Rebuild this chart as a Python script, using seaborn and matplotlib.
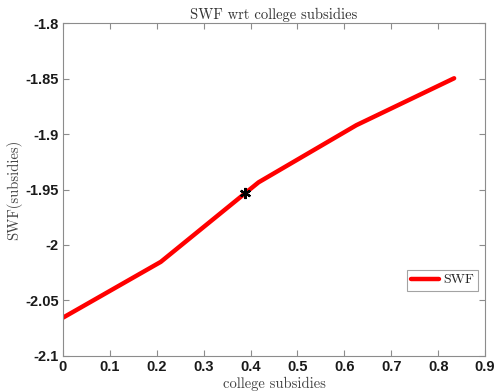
import matplotlib
matplotlib.use("Agg")
import matplotlib.pyplot as plt
import seaborn as sns
import pandas as pd

# Social welfare as a function of the college subsidy rate
subsidies = [0.0, 0.2085, 0.417, 0.6255, 0.834]
swf = [-2.0655, -2.0152, -1.9435, -1.8920, -1.8497]

# Baseline subsidy point
base_subsidy = [0.388]
base_swf = [-1.9530]

xticks = [0, 0.1, 0.2, 0.3, 0.4, 0.5, 0.6, 0.7, 0.8, 0.9]
yticks = [-2.1, -2.05, -2.0, -1.95, -1.9, -1.85, -1.8]
xtick_labels = ["0", "0.1", "0.2", "0.3", "0.4", "0.5", "0.6", "0.7", "0.8", "0.9"]
ytick_labels = ["-2.1", "-2.05", "-2", "-1.95", "-1.9", "-1.85", "-1.8"]

sns.set_theme(style="white")
plt.rcParams["axes.unicode_minus"] = False

df = pd.DataFrame({"subsidies": subsidies, "SWF": swf})

fig = plt.figure(figsize=(4.96, 3.92), dpi=100)
ax = fig.add_axes([0.127, 0.092, 0.851, 0.849])

sns.lineplot(data=df, x="subsidies", y="SWF", ax=ax, color="#ff0000",
             linewidth=3.2, label="SWF")
ax.plot(base_subsidy, base_swf, linestyle="none", marker=(6, 2, 0),
        markersize=8, markeredgewidth=1.6, color="black")

ax.set_xlim(0, 0.9)
ax.set_ylim(-2.1, -1.8)
ax.set_xticks(xticks)
ax.set_yticks(yticks)
ax.set_xticklabels(xtick_labels)
ax.set_yticklabels(ytick_labels)

frame_color = "#8c8c8c"
for side in ["left", "right", "top", "bottom"]:
    ax.spines[side].set_visible(True)
    ax.spines[side].set_color(frame_color)
    ax.spines[side].set_linewidth(0.8)

ax.tick_params(axis="both", which="both", direction="in", length=4,
               width=0.8, color=frame_color, top=True, right=True,
               bottom=True, left=True, pad=3)
for lab in ax.get_xticklabels() + ax.get_yticklabels():
    lab.set_fontfamily("Liberation Sans")
    lab.set_fontweight("bold")
    lab.set_fontsize(10.5)
    lab.set_color("#1a1a1a")

serif = "cmr10"
ax.set_title("SWF wrt college subsidies", fontfamily=serif, fontsize=10.5,
             color="#333333", pad=3)
ax.set_xlabel("college subsidies", fontfamily=serif, fontsize=10.5,
              color="#444444", labelpad=2)
ax.set_ylabel("SWF(subsidies)", fontfamily=serif, fontsize=10.5,
              color="#444444", labelpad=2)

leg = ax.legend(loc="center right", bbox_to_anchor=(0.983, 0.228),
                frameon=True, fancybox=False, borderpad=0.3,
                handlelength=2.0, handletextpad=0.3, borderaxespad=0,
                prop={"family": serif, "size": 10})
leg.get_frame().set_edgecolor(frame_color)
leg.get_frame().set_linewidth(0.8)

fig.savefig("out.png", dpi=100)
